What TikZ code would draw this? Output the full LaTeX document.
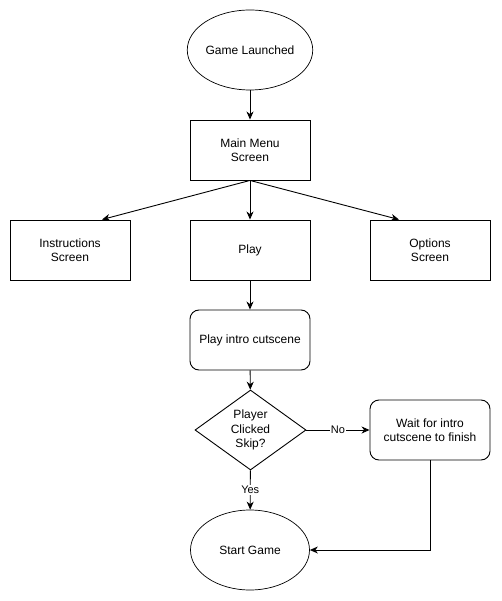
\documentclass[tikz,border=0pt]{standalone}
\usepackage{fontspec}
\setmainfont{Liberation Sans}
\usetikzlibrary{shapes.geometric,arrows.meta}
\begin{document}
\begin{tikzpicture}[x=1pt,y=-1pt,
  every node/.style={font=\fontsize{12}{14.5}\selectfont, align=center, inner sep=0pt},
  box/.style={draw, line width=0.9pt, minimum width=120pt, minimum height=60pt},
  rbox/.style={box, rounded corners=9pt},
  oval/.style={draw, line width=0.7pt, ellipse, minimum width=119pt, minimum height=80pt},
  choice/.style={draw, line width=0.9pt, diamond, minimum width=111pt, minimum height=80pt, aspect=1.39},
  link/.style={line width=0.9pt, -{Stealth[length=8pt,width=7pt,inset=2.5pt]}},
  tag/.style={fill=white, inner sep=1pt, font=\fontsize{11}{13}\selectfont}]
\useasboundingbox (0,0) rectangle (501,601);
% nodes
\node[oval] (launch) at (250,50) {Game Launched};
\node[box] (menu) at (250,150) {Main Menu\\Screen};
\node[box] (instr) at (70,250) {Instructions\\Screen};
\node[box] (play) at (250,250) {Play};
\node[box] (opts) at (430,250) {Options\\Screen};
\node[rbox] (intro) at (250,340) {Play intro cutscene};
\node[choice] (skip) at (250.5,430) {Player\\Clicked\\Skip?};
\node[rbox] (wait) at (430,430) {Wait for intro\\cutscene to finish};
\node[oval] (start) at (250,550) {Start Game};
% entry points of the side branches and the return bend
\coordinate (instrIn) at ([xshift=32pt]instr.north);
\coordinate (optsIn) at ([xshift=-31pt]opts.north);
\coordinate (corner) at (430,550);
% connectors
\draw[link] (launch) -- (menu);
\draw[link] (menu.south) -- (instrIn);
\draw[link] (menu.south) -- (play);
\draw[link] (menu.south) -- (optsIn);
\draw[link] (play) -- (intro);
\draw[link] (intro) -- (skip);
\draw[link] (skip) -- node[tag] {No} (wait);
\draw[link] (skip) -- node[tag] {Yes} (start);
\draw[link] (wait.south) -- (corner) -- (start.east);
\end{tikzpicture}
\end{document}
